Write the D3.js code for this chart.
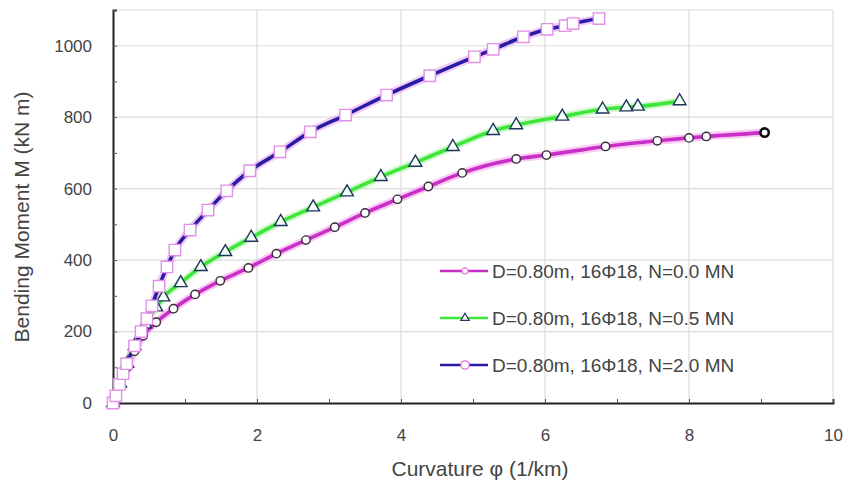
<!DOCTYPE html>
<html>
<head>
<meta charset="utf-8">
<style>
  body { margin: 0; background: #fff; }
  svg { font-family: "Liberation Sans", Arial, sans-serif; }
</style>
</head>
<body>
<svg width="845" height="480"></svg>
<script src="https://d3js.org/d3.v7.min.js"></script>
<script>

// curvature (1/km) and bending moment (kN m) for each axial load
var phiN00 = [0, 0.1, 0.2, 0.3, 0.42, 0.6, 0.84, 1.14, 1.49, 1.88, 2.27, 2.68, 3.08, 3.5, 3.95, 4.38, 4.85, 5.6, 6.02, 6.84, 7.56, 8.0, 8.24, 9.05];
var momN00 = [0, 50, 100, 145, 188, 226, 264, 304, 342, 378, 418, 456, 492, 532, 570, 606, 644, 683, 694, 718, 734, 742, 746, 757];

var phiN05 = [0, 0.1, 0.2, 0.3, 0.45, 0.6, 0.7, 0.94, 1.22, 1.56, 1.92, 2.33, 2.78, 3.25, 3.72, 4.2, 4.72, 5.28, 5.6, 6.24, 6.8, 7.13, 7.29, 7.87];
var momN05 = [0, 55, 110, 160, 220, 268, 296, 336, 381, 423, 463, 507, 548, 590, 633, 673, 717, 762, 778, 802, 822, 828, 830, 845];

var phiN20 = [0, 0.04, 0.09, 0.14, 0.19, 0.3, 0.39, 0.47, 0.54, 0.64, 0.75, 0.86, 1.07, 1.32, 1.58, 1.9, 2.32, 2.74, 3.23, 3.8, 4.4, 5.02, 5.28, 5.7, 6.03, 6.28, 6.39, 6.75];
var momN20 = [0, 20, 52, 82, 110, 160, 200, 236, 272, 327, 381, 428, 484, 540, 594, 650, 703, 759, 806, 862, 916, 969, 990, 1025, 1046, 1056, 1062, 1076];

var legendLabels = ["D=0.80m, 16Φ18, N=0.0 MN", "D=0.80m, 16Φ18, N=0.5 MN", "D=0.80m, 16Φ18, N=2.0 MN"];
var xTicks = [0, 2, 4, 6, 8, 10];
var yTicks = [0, 200, 400, 600, 800, 1000];

var series = [
  {phi: phiN00, m: momN00, line: "#c92fc6", halo: "#f3a6ef", symbol: d3.symbolCircle, size: 55, stroke: "#3a2a3a", fill: "#fff"},
  {phi: phiN05, m: momN05, line: "#3ee63a", halo: "#b8f5b0", symbol: d3.symbolTriangle, size: 70, stroke: "#1f3560", fill: "#f4fff4"},
  {phi: phiN20, m: momN20, line: "#2a1ba6", halo: "#e6a8f0", symbol: d3.symbolSquare, size: 130, stroke: "#e28fe8", fill: "#fff"}
];

var svg = d3.select("svg"),
    margin = {top: 10, right: 12, bottom: 77, left: 113},
    width = +svg.attr("width") - margin.left - margin.right,
    height = +svg.attr("height") - margin.top - margin.bottom,
    g = svg.append("g").attr("transform", "translate(" + margin.left + "," + margin.top + ")");

var x = d3.scaleLinear().domain([0, 10]).range([0, width]);
var y = d3.scaleLinear().domain([0, 1100]).range([height, 0]);

// grid
g.append("g")
    .selectAll("line")
    .data(xTicks.slice(1))
    .enter().append("line")
      .attr("x1", function(d) { return x(d); })
      .attr("x2", function(d) { return x(d); })
      .attr("y1", 0).attr("y2", height)
      .attr("stroke", "#dcdcdc").attr("stroke-width", 1.2);

g.append("g")
    .selectAll("line")
    .data(yTicks.slice(1).concat([1100]))
    .enter().append("line")
      .attr("x1", 0).attr("x2", width)
      .attr("y1", function(d) { return y(d); })
      .attr("y2", function(d) { return y(d); })
      .attr("stroke", "#dcdcdc").attr("stroke-width", 1.2);

// axes, ticks pointing into the plot
var xAxis = g.append("g")
    .attr("transform", "translate(0," + height + ")")
    .call(d3.axisBottom(x).tickValues(d3.range(0, 11, 1)).tickSize(-4).tickPadding(26).tickFormat(function(d) { return d % 2 ? "" : d; }));
var yAxis = g.append("g")
    .call(d3.axisLeft(y).tickValues(d3.range(0, 1101, 100)).tickSize(-4).tickPadding(21).tickFormat(function(d) { return d % 200 ? "" : d; }));

[xAxis, yAxis].forEach(function(a) {
  a.select(".domain").attr("stroke", "#222").attr("stroke-width", 2);
  a.selectAll(".tick line").attr("stroke", "#555");
  a.selectAll("text").attr("fill", "#444").style("font-size", "17px").style("font-family", "'Liberation Sans', Arial, sans-serif");
});

g.append("text")
    .attr("x", 367)
    .attr("y", height + 73)
    .attr("text-anchor", "middle")
    .attr("fill", "#444")
    .style("font-size", "21px")
    .text("Curvature φ (1/km)");

g.append("text")
    .attr("transform", "rotate(-90)")
    .attr("x", -207)
    .attr("y", -84)
    .attr("text-anchor", "middle")
    .attr("fill", "#444")
    .style("font-size", "21px")
    .text("Bending Moment M (kN m)");

var line = d3.line()
    .curve(d3.curveMonotoneX)
    .x(function(d) { return x(d[0]); })
    .y(function(d) { return y(d[1]); });

series.forEach(function(s) {
  var pts = d3.zip(s.phi, s.m);
  g.append("path")
      .datum(pts)
      .attr("fill", "none")
      .attr("stroke", s.halo)
      .attr("stroke-opacity", 0.6)
      .attr("stroke-width", 8)
      .attr("stroke-linejoin", "round")
      .attr("d", line);
  g.append("path")
      .datum(pts)
      .attr("fill", "none")
      .attr("stroke", s.line)
      .attr("stroke-width", 3.6)
      .attr("stroke-linejoin", "round")
      .attr("d", line);
  s.pts = pts;
});

series.forEach(function(s, i) {
  g.append("g")
    .selectAll("path")
    .data(s.pts)
    .enter().append("path")
      .attr("transform", function(d) { return "translate(" + x(d[0]) + "," + y(d[1]) + ")"; })
      .attr("d", d3.symbol().type(s.symbol).size(s.size))
      .attr("fill", s.fill)
      .attr("stroke", function(d, j) { return (i === 0 && j === s.pts.length - 1) ? "#111" : s.stroke; })
      .attr("stroke-width", function(d, j) { return (i === 0 && j === s.pts.length - 1) ? 2.6 : 1.4; });
});

// legend
var legend = g.append("g").attr("transform", "translate(327,261)");
legendLabels.forEach(function(label, i) {
  var s = series[i],
      row = legend.append("g").attr("transform", "translate(0," + (i * 47) + ")");
  row.append("line")
      .attr("x1", 0).attr("x2", 48)
      .attr("stroke", s.line).attr("stroke-width", 2.5);
  row.append("path")
      .attr("transform", "translate(25,0)")
      .attr("d", d3.symbol().type(i === 1 ? d3.symbolTriangle : d3.symbolCircle).size(i === 2 ? 55 : 30))
      .attr("fill", "#fff")
      .attr("stroke", i === 1 ? "#1f3560" : "#e070e0")
      .attr("stroke-width", 1.2);
  row.append("text")
      .attr("x", 52)
      .attr("dy", "0.35em")
      .attr("fill", "#444")
      .style("font-size", "19px")
      .text(label);
});

</script>
</body>
</html>
